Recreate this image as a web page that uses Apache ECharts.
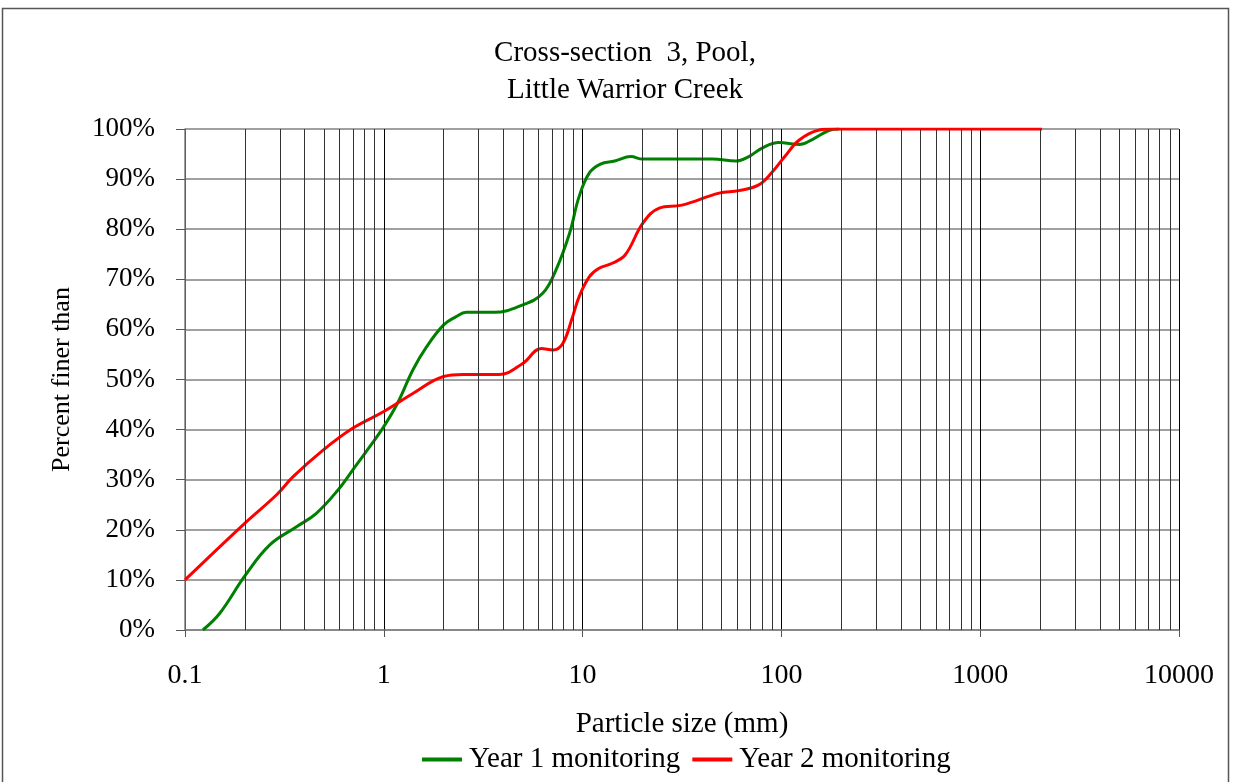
<!DOCTYPE html>
<html>
<head>
<meta charset="utf-8">
<script src="https://cdn.jsdelivr.net/npm/echarts@6/dist/echarts.min.js"></script>
<style>html,body{margin:0;padding:0;background:#fff;}#c{width:1235px;height:782px;}</style>
</head>
<body>
<div id="c"></div>
<script>
const titleLines = ["Cross-section  3, Pool,", "Little Warrior Creek"];
const xTickLabels = ["0.1", "1", "10", "100", "1000", "10000"];
const minorGridX = [0.2,0.3,0.4,0.5,0.6,0.7,0.8,0.9,2,3,4,5,6,7,8,9,20,30,40,50,60,70,80,90,200,300,400,500,600,700,800,900,2000,3000,4000,5000,6000,7000,8000,9000];

const year1Size = [0.123, 0.15, 0.2, 0.267, 0.364, 0.458, 0.59, 0.70, 0.85, 1.0, 1.17, 1.4, 1.64, 2.0, 2.3, 2.6, 3.6, 5.0, 6.3, 7.35, 8.6, 9.6, 10.8, 12.3, 14.5, 17.5, 20, 30, 45, 59, 68.6, 80, 97, 123, 143, 173, 195];
const year1Pct  = [0, 3.4, 10.8, 17, 20.6, 23.3, 28, 32, 36.6, 40.6, 45.2, 51.9, 56.5, 60.9, 62.5, 63.4, 63.4, 64.9, 67.2, 71.9, 79.2, 86.5, 91.2, 93, 93.6, 94.5, 94, 94, 94, 93.6, 94.5, 96.2, 97.3, 96.9, 97.9, 99.7, 100];

const year2Size = [0.1, 0.196, 0.289, 0.35, 0.495, 0.70, 1.0, 1.4, 2.0, 2.5, 3.8, 5.0, 6.2, 7.1, 7.95, 8.9, 9.6, 10.8, 12.1, 14.1, 16.4, 20.1, 24.3, 31.6, 48.6, 61, 76.5, 89, 104, 123, 155, 180, 2048];
const year2Pct  = [10, 21, 27, 30.6, 35.9, 40.3, 43.6, 47.2, 50.6, 51, 51, 53.2, 56.2, 55.9, 57.2, 62.5, 66.5, 70.5, 72.2, 73.2, 74.9, 81.2, 84.2, 84.8, 87.2, 87.7, 88.8, 91.2, 94.5, 97.8, 99.8, 100, 100];

const FONT = '"Liberation Serif", "Times New Roman", serif';
const pair = (xs, ys) => xs.map((x, i) => [x, ys[i]]);

const chart = echarts.init(document.getElementById('c'), null, {renderer: 'canvas'});
chart.setOption({
  backgroundColor: '#fff',
  animation: false,
  title: {
    text: titleLines.join('\n'),
    left: 620, top: 30, textAlign: 'center',
    textStyle: {fontFamily: FONT, fontSize: 29, fontWeight: 'normal', color: '#000', lineHeight: 37}
  },
  graphic: [{
    type: 'rect', shape: {x: 2.5, y: 8.5, width: 1226, height: 790},
    style: {fill: 'none', stroke: '#555', lineWidth: 1.5}, silent: true, z: -1
  }],
  legend: {
    bottom: 3, left: 417,
    itemWidth: 40, itemHeight: 4, icon: 'rect', itemGap: 12,
    textStyle: {fontFamily: FONT, fontSize: 29, color: '#000', padding: [0, 0, 0, 2]},
    data: ['Year 1 monitoring', 'Year 2 monitoring']
  },
  grid: {left: 185, right: 56, top: 129, bottom: 152, containLabel: false},
  xAxis: {
    type: 'log', logBase: 10, min: 0.1, max: 10000,
    name: 'Particle size (mm)', nameLocation: 'middle', nameGap: 80,
    nameTextStyle: {fontFamily: FONT, fontSize: 29, color: '#000'},
    axisLine: {show: true, lineStyle: {color: '#808080', width: 1.5}},
    axisTick: {show: true, inside: false, length: 7, lineStyle: {color: '#555'}},
    axisLabel: {fontFamily: FONT, fontSize: 28, color: '#000', margin: 32,
      formatter: v => { const i = Math.round(Math.log10(v)) + 1; return xTickLabels[i] !== undefined ? xTickLabels[i] : String(v); }},
    splitLine: {show: true, lineStyle: {color: '#000', width: 1}}
  },
  yAxis: {
    type: 'value', min: 0, max: 100, interval: 10,
    name: 'Percent finer than', nameLocation: 'middle', nameGap: 110, nameRotate: 90,
    nameTextStyle: {fontFamily: FONT, fontSize: 26, color: '#000'},
    axisLine: {show: true, lineStyle: {color: '#808080', width: 1.5}},
    axisTick: {show: true, inside: false, length: 9, lineStyle: {color: '#555'}},
    axisLabel: {fontFamily: FONT, fontSize: 27, color: '#000', margin: 30, formatter: '{value}%'},
    splitLine: {show: true, lineStyle: {color: '#808080', width: 1.5}}
  },
  series: [
    {
      name: 'Year 1 monitoring', type: 'line', data: pair(year1Size, year1Pct),
      smooth: 0.4, symbol: 'none',
      lineStyle: {color: '#008000', width: 3}, itemStyle: {color: '#008000'}, z: 3,
      markLine: {
        silent: true, symbol: 'none', label: {show: false}, animation: false,
        lineStyle: {color: '#333', width: 1, type: 'solid'},
        emphasis: {disabled: true},
        data: minorGridX.map(v => ({xAxis: v}))
      }
    },
    {
      name: 'Year 2 monitoring', type: 'line', data: pair(year2Size, year2Pct),
      smooth: 0.4, symbol: 'none',
      lineStyle: {color: '#ff0000', width: 3}, itemStyle: {color: '#ff0000'}, z: 4
    }
  ]
});
</script>
</body>
</html>
